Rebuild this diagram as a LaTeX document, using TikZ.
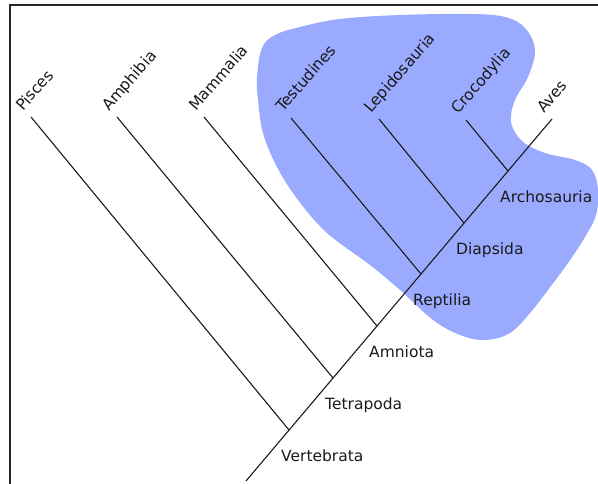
\documentclass[tikz,border=0pt]{standalone}
\usepackage{fontspec}
\setmainfont{DejaVu Sans}
\usepackage{xcolor}
\usepackage{tikz}
\usetikzlibrary{calc}
\definecolor{cladeblue}{RGB}{153,170,255}
\definecolor{ink}{HTML}{1A1A1A}
\newcommand{\taxon}[1]{{\fontsize{15.5}{18}\selectfont\color{ink}#1}}

\begin{document}
\begin{tikzpicture}[x=1pt, y=1pt,
    branch/.style={draw=ink, line width=1.1pt},
    leaflabel/.style={anchor=base west, rotate=49, inner sep=0pt},
    cladelabel/.style={anchor=base west, inner sep=0pt}]
\useasboundingbox (0,0) rectangle (598,484);
\fill[cladeblue] plot[smooth cycle, tension=0.6] coordinates {
    (257,407) (262,436) (275,449) (300,457) (340,465) (400,469) (470,470)
    (505,467) (525,456) (535,434) (528,407) (515,384) (511,362) (522,343)
    (545,331) (575,324) (592,314) (598,294) (596,269) (585,247) (568,221)
    (548,194) (530,171) (510,151) (485,144) (460,149) (433,164) (400,194)
    (370,219) (327,251) (298,284) (277,317) (263,351) (258,384)};
\draw[line width=2pt, black!85] (10,0) -- (10,479) -- (598,479);

\coordinate (root) at (246,3);
\coordinate (vertebrata) at (289,54);
\coordinate (tetrapoda) at (333,106);
\coordinate (amniota) at (377,158);
\coordinate (reptilia) at (421,210);
\coordinate (diapsida) at (464,261);
\coordinate (archosauria) at (508,313);
\coordinate (pisces) at (31,367);
\coordinate (amphibia) at (117,367);
\coordinate (mammalia) at (204,367);
\coordinate (testudines) at (291,366);
\coordinate (lepidosauria) at (379,365);
\coordinate (crocodylia) at (466,364);
\coordinate (aves) at (552,365);

\draw[branch] (root) -- (aves);
\foreach \from/\to in {vertebrata/pisces, tetrapoda/amphibia, amniota/mammalia,
    reptilia/testudines, diapsida/lepidosauria, archosauria/crocodylia}
  \draw[branch] (\from) -- (\to);

\foreach \leaf/\name in {pisces/Pisces, amphibia/Amphibia, mammalia/Mammalia,
    testudines/Testudines, lepidosauria/Lepidosauria, crocodylia/Crocodylia, aves/Aves}
  \node[leaflabel] (lbl-\leaf) at ($(\leaf)+(-8,5)$) {\taxon{\name}};

\foreach \clade/\name in {vertebrata/Vertebrata, tetrapoda/Tetrapoda, amniota/Amniota,
    reptilia/Reptilia, diapsida/Diapsida, archosauria/Archosauria}
  \node[cladelabel] (lbl-\clade) at ($(\clade)+(-8,-32)$) {\taxon{\name}};
\end{tikzpicture}
\end{document}
